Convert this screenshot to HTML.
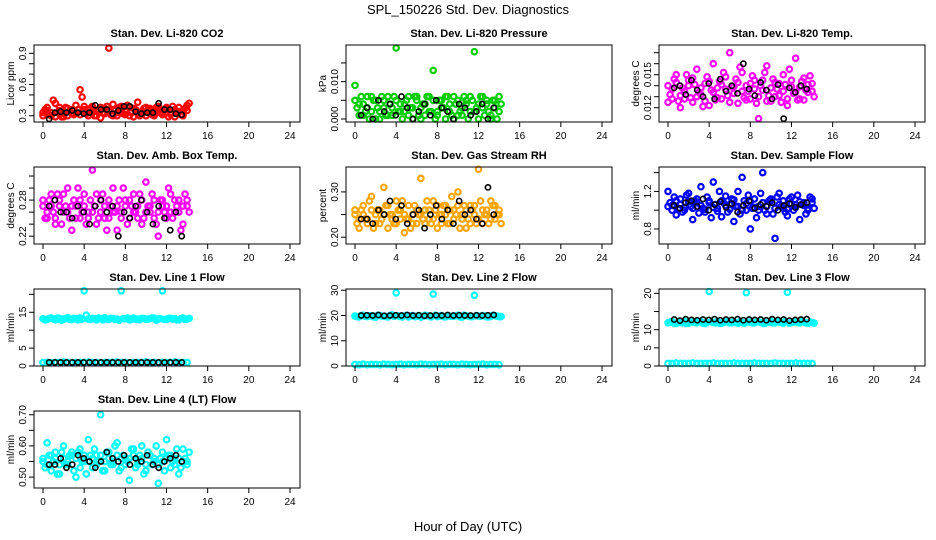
<!DOCTYPE html>
<html><head><meta charset="utf-8"><style>
body{margin:0;background:#fff}
svg{display:block;font-family:"Liberation Sans",sans-serif}
</style></head><body>
<svg id="c" width="936" height="540" viewBox="0 0 936 540">
<text x="468" y="14" text-anchor="middle" font-size="13">SPL_150226  Std. Dev. Diagnostics</text>
<text x="468" y="531" text-anchor="middle" font-size="13">Hour of Day (UTC)</text>
</svg>
<script>
const xTicks=[0,4,8,12,16,20,24];
const co2Vals=[0.33,0.38,0.30,0.42,0.35,0.29,0.37,0.32,0.40,0.55,0.36,0.30,0.39,0.34,0.28,0.37,0.95,0.41,0.30,0.36,0.31,0.38,0.29,0.43,0.34,0.30,0.37,0.32,0.39,0.31,0.36,0.33,0.29,0.38,0.35,0.40];
const co2Vals2=[0.36,0.31,0.45,0.33,0.29,0.38,0.34,0.31,0.36,0.48,0.32,0.37,0.30,0.36,0.33,0.39,0.31,0.35,0.38,0.32,0.40,0.33,0.36,0.30,0.37,0.35,0.31,0.38,0.33,0.36,0.29,0.39,0.34,0.31,0.37,0.42];
const co2Vals3=[0.30,0.35,0.33,0.29,0.38,0.32,0.30,0.36,0.33,0.31,0.39,0.33,0.35,0.30,0.38,0.32,0.35,0.30,0.33,0.39,0.34,0.30,0.37,0.33,0.31,0.38,0.35,0.30,0.36,0.33,0.38,0.31,0.36,0.34,0.30,0.35];
const co2Black=[0.27,0.33,0.34,0.33,0.35,0.33,0.32,0.33,0.40,0.36,0.36,0.32,0.35,0.39,0.39,0.34,0.32,0.33,0.33,0.42,0.36,0.36,0.32,0.31];
const presVals=[0.009,0.004,0.001,0.006,0.002,0.005,0.000,0.003,0.006,0.001,0.019,0.004,0.002,0.006,0.000,0.005,0.003,0.001,0.006,0.013,0.002,0.005,0.000,0.004,0.006,0.001,0.003,0.005,0.002,0.018,0.000,0.006,0.004,0.001,0.005,0.002];
const presVals2=[0.003,0.006,0.002,0.000,0.005,0.003,0.006,0.001,0.004,0.006,0.002,0.000,0.005,0.003,0.006,0.001,0.004,0.006,0.002,0.000,0.005,0.003,0.006,0.001,0.004,0.002,0.006,0.000,0.005,0.003,0.006,0.001,0.002,0.005,0.000,0.004];
const presVals3=[0.005,0.001,0.004,0.003,0.006,0.000,0.002,0.005,0.001,0.003,0.005,0.002,0.004,0.001,0.003,0.006,0.000,0.004,0.002,0.005,0.001,0.003,0.006,0.002,0.000,0.005,0.001,0.004,0.006,0.002,0.004,0.003,0.005,0.000,0.003,0.006];
const presBlack=[0.001,0.003,0.000,0.005,0.002,0.004,0.001,0.006,0.003,0.000,0.002,0.004,0.001,0.005,0.003,0.002,0.000,0.004,0.003,0.001,0.002,0.004,0.000,0.003];
const tempVals=[0.0140,0.0128,0.0150,0.0120,0.0135,0.0145,0.0125,0.0155,0.0132,0.0142,0.0122,0.0160,0.0138,0.0128,0.0148,0.0170,0.0133,0.0124,0.0152,0.0140,0.0128,0.0145,0.0110,0.0136,0.0158,0.0126,0.0143,0.0131,0.0150,0.0122,0.0139,0.0165,0.0128,0.0147,0.0134,0.0142];
const tempVals2=[0.0132,0.0146,0.0126,0.0138,0.0150,0.0129,0.0141,0.0134,0.0121,0.0148,0.0136,0.0127,0.0144,0.0152,0.0131,0.0139,0.0146,0.0157,0.0129,0.0135,0.0149,0.0124,0.0140,0.0152,0.0131,0.0146,0.0137,0.0125,0.0141,0.0155,0.0133,0.0127,0.0144,0.0136,0.0149,0.0130];
const tempVals3=[0.0125,0.0137,0.0143,0.0131,0.0128,0.0140,0.0147,0.0130,0.0138,0.0126,0.0144,0.0134,0.0129,0.0141,0.0137,0.0125,0.0139,0.0143,0.0135,0.0127,0.0142,0.0137,0.0130,0.0145,0.0126,0.0138,0.0130,0.0142,0.0135,0.0128,0.0145,0.0134,0.0139,0.0127,0.0141,0.0135];
const tempBlack=[0.0138,0.0140,0.0132,0.0145,0.0136,0.0130,0.0142,0.0128,0.0146,0.0135,0.0140,0.0133,0.0160,0.0137,0.0131,0.0143,0.0136,0.0128,0.0141,0.0110,0.0138,0.0134,0.0140,0.0137];
const ambVals=[0.27,0.25,0.29,0.24,0.28,0.26,0.30,0.23,0.27,0.25,0.29,0.26,0.33,0.24,0.28,0.27,0.25,0.30,0.23,0.26,0.28,0.25,0.29,0.27,0.24,0.31,0.26,0.28,0.22,0.27,0.25,0.29,0.26,0.28,0.24,0.27];
const ambVals2=[0.25,0.28,0.26,0.29,0.24,0.27,0.25,0.28,0.30,0.26,0.24,0.28,0.27,0.25,0.29,0.23,0.27,0.26,0.28,0.30,0.24,0.27,0.26,0.29,0.25,0.27,0.29,0.24,0.28,0.26,0.30,0.25,0.27,0.23,0.29,0.26];
const ambVals3=[0.28,0.26,0.27,0.25,0.27,0.29,0.26,0.27,0.25,0.28,0.27,0.25,0.26,0.29,0.26,0.25,0.28,0.26,0.27,0.25,0.27,0.28,0.26,0.25,0.28,0.26,0.27,0.25,0.26,0.28,0.27,0.26,0.28,0.26,0.27,0.28];
const ambBlack=[0.27,0.28,0.26,0.26,0.25,0.27,0.26,0.24,0.27,0.28,0.26,0.27,0.22,0.26,0.25,0.27,0.28,0.26,0.24,0.27,0.25,0.23,0.26,0.22];
const rhVals=[0.25,0.22,0.27,0.24,0.29,0.23,0.26,0.31,0.22,0.25,0.28,0.24,0.21,0.27,0.25,0.23,0.33,0.26,0.24,0.28,0.22,0.25,0.27,0.23,0.26,0.30,0.24,0.22,0.27,0.25,0.35,0.23,0.26,0.28,0.24,0.26];
const rhVals2=[0.23,0.26,0.24,0.28,0.22,0.26,0.24,0.27,0.25,0.23,0.26,0.28,0.24,0.22,0.27,0.25,0.24,0.28,0.23,0.26,0.25,0.27,0.23,0.29,0.25,0.22,0.27,0.24,0.26,0.23,0.28,0.25,0.23,0.27,0.25,0.23];
const rhVals3=[0.26,0.24,0.25,0.23,0.26,0.25,0.23,0.25,0.27,0.24,0.23,0.26,0.25,0.24,0.23,0.26,0.25,0.23,0.26,0.24,0.27,0.23,0.25,0.26,0.24,0.27,0.25,0.26,0.23,0.27,0.24,0.26,0.25,0.24,0.27,0.25];
const rhBlack=[0.24,0.24,0.23,0.26,0.25,0.28,0.24,0.27,0.23,0.25,0.26,0.22,0.25,0.27,0.24,0.26,0.23,0.28,0.25,0.26,0.24,0.23,0.31,0.25];
const flowVals=[1.20,1.05,0.95,1.12,1.00,1.18,0.90,1.08,1.25,0.98,1.10,1.30,1.02,0.93,1.15,1.06,0.88,1.20,1.35,1.00,0.80,1.12,1.04,1.40,0.96,1.10,0.70,1.18,1.02,0.94,1.14,1.06,0.90,1.08,1.00,1.12];
const flowVals2=[1.08,1.14,1.02,0.98,1.16,1.04,1.10,0.97,1.02,1.14,0.92,1.06,1.20,1.08,0.98,1.12,1.04,0.96,1.10,1.16,1.02,0.92,1.18,1.00,1.10,0.96,1.14,1.04,0.98,1.12,1.00,1.16,1.06,0.96,1.14,1.02];
const flowVals3=[1.04,1.00,1.10,1.06,1.03,1.09,1.02,1.12,1.05,1.01,1.08,1.03,0.99,1.10,1.05,1.01,1.11,1.04,1.00,1.07,1.09,1.03,1.00,1.08,1.04,1.12,1.02,1.06,1.10,1.01,1.07,1.03,1.09,1.05,1.02,1.08];
const flowBlack=[1.05,1.02,1.08,1.10,1.04,1.12,1.00,1.06,1.09,1.03,1.07,0.98,1.05,1.10,1.02,1.06,1.04,1.08,1.00,1.05,1.07,1.03,1.06,1.08];
const l1Hi=[13.2,13.0,13.4,12.9,13.3,13.1,13.5,13.0,13.2,13.4,21.0,13.1,13.3,12.9,13.2,13.5,13.0,13.3,13.1,21.0,13.2,12.9,13.4,13.1,13.3,13.0,13.2,13.4,13.1,21.0,13.0,13.3,13.2,12.9,13.4,13.1];
const l1Hi2=[12.9,13.3,13.1,13.4,12.8,13.2,13.0,13.3,12.9,13.1,14.2,13.0,13.2,13.4,12.9,13.1,13.3,13.0,12.8,13.2,13.4,13.0,13.1,12.9,13.3,13.1,13.4,12.8,13.2,13.0,13.3,13.1,12.9,13.2,13.0,13.3];
const l1Lo=[1.0,1.0,0.9,1.0,1.0,1.1,1.0,0.9,1.0,1.0,1.0,1.1,1.0,1.0,0.9,1.0,1.0,1.0,1.1,1.0,1.0,0.9,1.0,1.0,1.0,1.1,1.0,1.0,0.9,1.0,1.0,1.0,1.1,1.0,1.0,1.0];
const l1Black=[1.0,1.0,1.0,1.0,1.0,1.0,1.0,1.0,1.0,1.0,1.0,1.0,1.0,1.0,1.0,1.0,1.0,1.0,1.0,1.0,1.0,1.0,1.0,1.0];
const l2Hi=[19.8,19.5,20.1,19.6,19.9,19.4,20.0,19.7,19.5,20.2,29.0,19.6,19.9,19.5,20.0,19.7,19.4,20.1,19.8,28.5,19.6,20.0,19.5,19.8,19.7,20.1,19.4,19.9,19.6,28.0,19.8,20.0,19.5,19.7,19.9,19.6];
const l2Hi2=[19.6,20.0,19.7,19.9,19.5,20.1,19.8,19.6,20.0,19.7,19.9,19.5,20.1,19.8,19.6,20.0,19.7,19.9,19.5,20.1,19.8,19.6,20.0,19.7,19.9,19.5,20.1,19.8,19.6,20.0,19.7,19.9,19.5,20.1,19.8,19.6];
const l2Lo=[0.6,0.5,0.7,0.5,0.6,0.6,0.5,0.7,0.6,0.5,0.6,0.7,0.5,0.6,0.6,0.5,0.7,0.6,0.5,0.6,0.6,0.7,0.5,0.6,0.6,0.5,0.7,0.6,0.5,0.6,0.6,0.7,0.5,0.6,0.6,0.5];
const l2Black=[20.0,20.1,20.0,20.2,19.9,20.0,20.1,20.0,20.2,20.0,20.1,19.9,20.0,20.1,20.0,20.2,20.0,20.1,20.0,20.0,20.1,20.0,20.1,20.2];
const l3Hi=[11.9,12.2,11.7,12.0,12.3,11.8,12.1,11.9,12.2,11.7,20.5,12.0,12.3,11.8,12.1,11.9,12.2,11.8,12.0,20.2,12.1,11.9,12.2,11.8,12.0,12.3,11.9,12.1,11.8,20.3,12.0,12.2,11.9,12.1,11.8,12.0];
const l3Hi2=[12.1,11.8,12.2,11.9,11.7,12.1,12.0,12.3,11.8,12.0,12.2,11.9,11.8,12.1,12.3,11.9,12.0,12.2,11.8,12.1,11.9,12.2,12.0,11.7,12.1,11.9,12.2,12.0,12.3,11.8,12.1,12.0,12.2,11.9,12.1,11.8];
const l3Lo=[0.7,0.7,0.8,0.7,0.7,0.7,0.8,0.7,0.7,0.7,0.7,0.8,0.7,0.7,0.7,0.7,0.8,0.7,0.7,0.7,0.7,0.8,0.7,0.7,0.7,0.7,0.8,0.7,0.7,0.7,0.7,0.8,0.7,0.7,0.7,0.7];
const l3Black=[12.8,12.5,12.9,12.7,12.6,12.8,12.7,12.9,12.6,12.8,12.7,12.9,12.6,12.8,12.7,12.8,12.6,12.9,12.7,12.8,12.5,12.7,12.8,12.9];
const l4Vals=[0.56,0.61,0.52,0.58,0.51,0.60,0.54,0.57,0.50,0.59,0.55,0.62,0.53,0.57,0.70,0.52,0.58,0.55,0.61,0.53,0.56,0.49,0.59,0.54,0.60,0.52,0.57,0.55,0.48,0.58,0.62,0.53,0.56,0.51,0.59,0.55];
const l4Vals2=[0.53,0.57,0.55,0.51,0.58,0.54,0.57,0.52,0.58,0.55,0.51,0.57,0.59,0.55,0.52,0.58,0.54,0.60,0.52,0.57,0.55,0.59,0.53,0.57,0.51,0.58,0.54,0.60,0.56,0.52,0.57,0.55,0.59,0.53,0.56,0.58];
const l4Vals3=[0.55,0.54,0.57,0.56,0.54,0.56,0.55,0.58,0.56,0.53,0.57,0.55,0.56,0.54,0.57,0.55,0.56,0.54,0.57,0.56,0.54,0.56,0.57,0.55,0.56,0.54,0.57,0.56,0.54,0.55,0.56,0.57,0.54,0.56,0.55,0.54];
const l4Black=[0.54,0.54,0.56,0.53,0.54,0.57,0.56,0.55,0.53,0.55,0.58,0.56,0.55,0.57,0.54,0.56,0.55,0.57,0.54,0.53,0.55,0.56,0.57,0.55];
const colX=[34,346,659], rowY=[45,167,289,411], W=266, H=77;
const panels=[
 {t:"Stan. Dev. Li-820 CO2",yl:"Licor ppm",lo:0.24,hi:0.98,ticks:[0.3,0.4,0.5,0.6,0.7,0.8,0.9],labs:{0.3:"0.3",0.6:"0.6",0.9:"0.9"},col:"#ff0000",ser:[co2Vals,co2Vals2,co2Vals3],blk:co2Black},
 {t:"Stan. Dev. Li-820 Pressure",yl:"kPa",lo:-0.0008,hi:0.0198,ticks:[0,0.005,0.01,0.015],labs:{0:"0.000",0.01:"0.010"},col:"#00cc00",ser:[presVals,presVals2,presVals3],blk:presBlack},
 {t:"Stan. Dev. Li-820 Temp.",yl:"degrees C",lo:0.0107,hi:0.0177,ticks:[0.012,0.013,0.014,0.015,0.016,0.017],labs:{0.012:"0.012",0.015:"0.015"},col:"#ff00ff",ser:[tempVals,tempVals2,tempVals3],blk:tempBlack},
 {t:"Stan. Dev. Amb. Box Temp.",yl:"degrees C",lo:0.207,hi:0.335,ticks:[0.22,0.24,0.26,0.28,0.30,0.32],labs:{0.22:"0.22",0.28:"0.28"},col:"#ff00ff",ser:[ambVals,ambVals2,ambVals3],blk:ambBlack},
 {t:"Stan. Dev. Gas Stream RH",yl:"percent",lo:0.185,hi:0.355,ticks:[0.2,0.25,0.3],labs:{0.2:"0.20",0.3:"0.30"},col:"#ffa500",ser:[rhVals,rhVals2,rhVals3],blk:rhBlack},
 {t:"Stan. Dev. Sample Flow",yl:"ml/min",lo:0.64,hi:1.46,ticks:[0.8,1.0,1.2,1.4],labs:{0.8:"0.8",1.2:"1.2"},col:"#0000ff",ser:[flowVals,flowVals2,flowVals3],blk:flowBlack},
 {t:"Stan. Dev. Line 1 Flow",yl:"ml/min",lo:0,hi:21.5,ticks:[0,5,10,15,20],labs:{0:"0",5:"5",15:"15"},col:"#00ffff",ser:[l1Hi,l1Hi2,l1Lo],blk:l1Black},
 {t:"Stan. Dev. Line 2 Flow",yl:"ml/min",lo:0,hi:30.5,ticks:[0,10,20,30],labs:{0:"0",10:"10",20:"20",30:"30"},col:"#00ffff",ser:[l2Hi,l2Hi2,l2Lo],blk:l2Black},
 {t:"Stan. Dev. Line 3 Flow",yl:"ml/min",lo:0,hi:21.2,ticks:[0,5,10,15,20],labs:{0:"0",5:"5",10:"10",20:"20"},col:"#00ffff",ser:[l3Hi,l3Hi2,l3Lo],blk:l3Black},
 {t:"Stan. Dev. Line 4 (LT) Flow",yl:"ml/min",lo:0.465,hi:0.712,ticks:[0.5,0.55,0.6,0.65,0.7],labs:{0.5:"0.50",0.6:"0.60",0.7:"0.70"},col:"#00ffff",ser:[l4Vals,l4Vals2,l4Vals3],blk:l4Black}
];
const svg=document.getElementById('c');
const NS="http://www.w3.org/2000/svg";
function mk(tag,at,parent){const e=document.createElementNS(NS,tag);for(const k in at)e.setAttribute(k,at[k]);(parent||svg).appendChild(e);return e;}
panels.forEach((p,i)=>{
 const bx=colX[i%3], by=rowY[Math.floor(i/3)];
 const g=mk('g',{});
 
 
 const xs=v=>bx+9+v*(W-19)/24;
 const ys=v=>by+H-(v-p.lo)/(p.hi-p.lo)*H;
 const tt=mk('text',{x:bx+W/2,y:by-8,'text-anchor':'middle','font-size':'11','font-weight':'bold'},g);tt.textContent=p.t;
 
 
 const yl=mk('text',{x:0,y:0,transform:`translate(${bx-20},${by+H/2}) rotate(-90)`,'text-anchor':'middle','font-size':'10'},g);yl.textContent=p.yl;
 
 
 const pts=mk('g',{},g);
 p.ser.forEach((s,k)=>s.forEach((v,j)=>{
  const c=mk('circle',{cx:xs(j*0.4+(k%2)*0.2),cy:ys(v),r:2.7,fill:'none',stroke:p.col,'stroke-width':2.2},pts);
  
  
 }));
 p.blk.forEach((v,j)=>{
  const c=mk('circle',{cx:xs(0.6+j*0.56),cy:ys(v),r:2.6,fill:'none',stroke:'#000','stroke-width':1.6},pts);
  
  
 });
 const box=mk('rect',{x:bx,y:by,width:W,height:H,fill:'none',stroke:'#000','stroke-width':1},g);
 
 
 xTicks.forEach(t=>{
  mk('line',{x1:xs(t),x2:xs(t),y1:by+H,y2:by+H+5,stroke:'#000'},g);
  const tx=mk('text',{x:xs(t),y:by+H+17,'text-anchor':'middle','font-size':'10'},g);tx.textContent=t;
  
  
 });
 p.ticks.forEach(t=>{
  mk('line',{x1:bx-5,x2:bx,y1:ys(t),y2:ys(t),stroke:'#000'},g);
  if(p.labs[t]!==undefined){
   const tx=mk('text',{x:0,y:0,transform:`translate(${bx-8},${ys(t)}) rotate(-90)`,'text-anchor':'middle','font-size':'10'},g);tx.textContent=p.labs[t];
   
   
  }
 });
});
</script>
</body></html>
